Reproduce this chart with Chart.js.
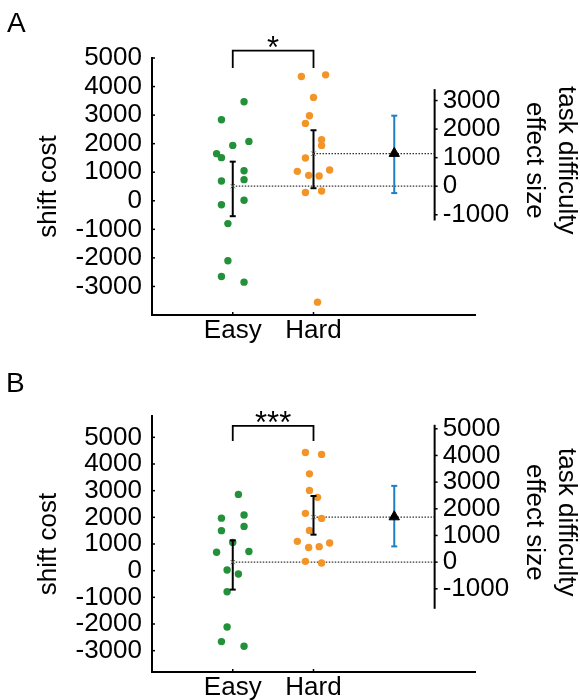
<!DOCTYPE html>
<html>
<head>
<meta charset="utf-8">
<script src="https://cdn.jsdelivr.net/npm/chart.js@4/dist/chart.umd.min.js"></script>
<style>
  body { margin: 0; background: #fff; }
  #wrap { position: relative; width: 580px; height: 700px; }
  #wrap canvas { position: absolute; left: 0; }
  .panel-label {
    position: absolute; z-index: 2;
    font: 28px 'Liberation Sans', Arial, sans-serif; line-height: 28px; color: #000;
  }
</style>
</head>
<body>
<div id="wrap">
  <div class="panel-label" style="left:7px; top:9px;">A</div>
  <canvas id="chartA" width="580" height="350" style="top:0;"></canvas>
  <div class="panel-label" style="left:6px; top:369px;">B</div>
  <canvas id="chartB" width="580" height="350" style="top:350px;"></canvas>
</div>

<script>
// Shift cost for easy vs hard tasks (dots = participants), plus the
// task-difficulty effect size on a second axis to the right.

// Shared x layout
var CATEGORIES    = ['Easy', 'Hard'];
var CATEGORY_POS  = [1, 2];
var EFFECT_POS    = 3;     // x of the effect-size bar
var RIGHT_AXIS_AT = 3.5;   // x where the right axis is drawn
var X_RANGE       = [0, 4];
var LEFT_TICKS    = [-3000, -2000, -1000, 0, 1000, 2000, 3000, 4000, 5000];

// Panel A
var A_LEFT_RANGE  = [-4000, 5000];
var A_EASY_JITTER = [-0.14, 0.14, 0, 0.2, -0.2, -0.14, 0.14, -0.14, 0.14, 0.14, -0.14, -0.06, -0.06, -0.14, 0.14];
var A_EASY_VALUES = [2840, 3470, 1940, 2080, 1650, 1510, 1050, 690, 740, 20, -140, -800, -2100, -2650, -2850];
var A_HARD_JITTER = [-0.15, 0.15, 0, -0.05, -0.1, 0.1, 0.1, -0.1, -0.2, 0.2, -0.06, 0.07, -0.1, 0.1, 0.05];
var A_HARD_VALUES = [4350, 4410, 3620, 2980, 2710, 2140, 1940, 1500, 1030, 1080, 890, 870, 290, 340, -3550];
var A_MEANS       = [510, 1650];
var A_ERR_LOW     = [-540, 440];
var A_ERR_HIGH    = [1370, 2470];
var A_EFFECT_MEAN = 1150;
var A_EFFECT_CI   = [-240, 2470];
var A_RIGHT_RANGE = [-1200, 3400];
var A_RIGHT_TICKS = [-1000, 0, 1000, 2000, 3000];
var A_BRACKET     = [4650, 5260];
var A_STARS       = '*';

// Panel B
var B_LEFT_RANGE  = [-3800, 5800];
var B_EASY_JITTER = [0.07, -0.14, 0.14, -0.14, 0.14, 0, -0.2, 0.2, -0.07, 0.07, -0.07, -0.07, -0.14, 0.14];
var B_EASY_VALUES = [2860, 1970, 2090, 1500, 1660, 1060, 690, 720, 25, -125, -790, -2110, -2660, -2835];
var B_HARD_JITTER = [-0.1, 0.1, -0.05, -0.05, 0.05, -0.1, 0.1, -0.05, -0.2, 0.2, -0.06, 0.07, -0.1, 0.1];
var B_HARD_VALUES = [4430, 4360, 3630, 3010, 2750, 2150, 1960, 1510, 1100, 1040, 870, 900, 350, 290];
var B_MEANS       = [320, 2010];
var B_ERR_LOW     = [-710, 1350];
var B_ERR_HIGH    = [1135, 2800];
var B_EFFECT_MEAN = 1700;
var B_EFFECT_CI   = [590, 2860];
var B_RIGHT_RANGE = [-1750, 5150];
var B_RIGHT_TICKS = [-1000, 0, 1000, 2000, 3000, 4000, 5000];
var B_BRACKET     = [4860, 5430];
var B_STARS       = '***';

// Colours
var EASY_COLOR   = '#229139';
var HARD_COLOR   = '#f39428';
var EFFECT_COLOR = '#1e7fc6';
var FONT_FAMILY  = "'Liberation Sans', Arial, sans-serif";

Chart.defaults.font.family = FONT_FAMILY;
Chart.defaults.color = '#000';

// Dataset helpers

// One dot per participant, spread sideways around the category
function dotSet(pos, jitter, values, color) {
  return {
    data: values.map(function(v, i) { return { x: pos + jitter[i], y: v }; }),
    pointRadius: 3.7,
    pointBackgroundColor: color,
    pointBorderWidth: 0,
    order: 3,
  };
}

// Vertical error bar with small caps (pointStyle 'line' draws the caps)
function errorBarSet(pos, low, high, color, axisId) {
  return {
    yAxisID: axisId,
    data: [{ x: pos, y: low }, { x: pos, y: high }],
    showLine: true,
    borderColor: color,
    borderWidth: 2,
    pointStyle: 'line',
    pointRadius: 3,
    pointBorderColor: color,
    pointBorderWidth: 2,
    order: 1,
  };
}

// Dotted guide from a mean across to the right axis
function dottedSet(pos, mean) {
  return {
    data: [{ x: pos, y: mean }, { x: RIGHT_AXIS_AT, y: mean }],
    showLine: true,
    borderColor: '#333',
    borderWidth: 1.2,
    borderDash: [1.5, 1.5],
    pointRadius: 0,
    order: 4,
  };
}

// Extra drawing: inward ticks, right axis, significance stars
function makeExtras(p) {
  return {
    id: 'panelExtras',
    afterDraw: function(chart) {
      var ctx  = chart.ctx;
      var xs   = chart.scales.x;
      var ys   = chart.scales.y;
      var y2   = chart.scales.y2;
      var area = chart.chartArea;

      function seg(x1, y1, x2, y2p) {
        ctx.beginPath(); ctx.moveTo(x1, y1); ctx.lineTo(x2, y2p); ctx.stroke();
      }

      ctx.save();
      ctx.strokeStyle = '#000';
      ctx.fillStyle = '#000';

      // small inward tick marks on the main axes
      ctx.lineWidth = 1.5;
      LEFT_TICKS.forEach(function(v) {
        var py = ys.getPixelForValue(v);
        seg(area.left, py, area.left + 3, py);
      });
      CATEGORY_POS.forEach(function(v) {
        var px = xs.getPixelForValue(v);
        seg(px, area.bottom, px, area.bottom - 3);
      });

      // right axis (effect size), zero lined up with the easy mean
      var ax = xs.getPixelForValue(RIGHT_AXIS_AT);
      ctx.lineWidth = 2;
      seg(ax, y2.getPixelForValue(p.rightRange[0]), ax, y2.getPixelForValue(p.rightRange[1]));
      ctx.lineWidth = 1.5;
      ctx.font = '26px ' + FONT_FAMILY;
      ctx.textAlign = 'left';
      ctx.textBaseline = 'middle';
      p.rightTicks.forEach(function(v) {
        var py = y2.getPixelForValue(v);
        seg(ax, py, ax + 3, py);
        ctx.fillText(String(v), ax + 8, py);
      });

      // right axis title, rotated clockwise
      var midY = (y2.getPixelForValue(p.rightRange[0]) + y2.getPixelForValue(p.rightRange[1])) / 2 + 5.5;
      ctx.textAlign = 'center';
      [['task difficulty', 132], ['effect size', 100]].forEach(function(t) {
        ctx.save();
        ctx.translate(ax + t[1], midY);
        ctx.rotate(Math.PI / 2);
        ctx.fillText(t[0], 0, 0);
        ctx.restore();
      });

      // stars above the bracket
      ctx.font = '31px ' + FONT_FAMILY;
      ctx.textBaseline = 'alphabetic';
      var midX = (xs.getPixelForValue(CATEGORY_POS[0]) + xs.getPixelForValue(CATEGORY_POS[1])) / 2;
      ctx.fillText(p.stars, midX, ys.getPixelForValue(p.bracket[1]) + 7.5);

      ctx.restore();
    },
  };
}

function buildPanel(canvasId, p) {
  var easyMean = p.means[0];
  var datasets = [];

  datasets.push(dotSet(CATEGORY_POS[0], p.easyJitter, p.easyValues, EASY_COLOR));
  datasets.push(dotSet(CATEGORY_POS[1], p.hardJitter, p.hardValues, HARD_COLOR));

  // mean (x marker) and error bar per condition
  CATEGORY_POS.forEach(function(pos, i) {
    datasets.push(errorBarSet(pos, p.errLow[i], p.errHigh[i], '#000', 'y'));
    datasets.push(dottedSet(pos, p.means[i]));
    datasets.push({
      data: [{ x: pos, y: p.means[i] }],
      pointStyle: 'crossRot',
      pointRadius: 3,
      pointBorderColor: '#555',
      pointBorderWidth: 1,
      order: 0,
    });
  });

  // effect size on the right-hand scale
  datasets.push(errorBarSet(EFFECT_POS, p.effectCI[0], p.effectCI[1], EFFECT_COLOR, 'y2'));
  datasets.push({
    yAxisID: 'y2',
    data: [{ x: EFFECT_POS, y: p.effectMean }],
    pointStyle: 'triangle',
    pointRadius: 6,
    pointBackgroundColor: '#000',
    pointBorderColor: '#000',
    pointBorderWidth: 1,
    order: 0,
  });

  // significance bracket
  datasets.push({
    data: [
      { x: CATEGORY_POS[0], y: p.bracket[0] },
      { x: CATEGORY_POS[0], y: p.bracket[1] },
      { x: CATEGORY_POS[1], y: p.bracket[1] },
      { x: CATEGORY_POS[1], y: p.bracket[0] },
    ],
    showLine: true,
    borderColor: '#000',
    borderWidth: 1.8,
    pointRadius: 0,
    clip: false,
    order: 1,
  });

  return new Chart(document.getElementById(canvasId), {
    type: 'scatter',
    data: { datasets: datasets },
    options: {
      responsive: false,
      animation: false,
      events: [],
      layout: { padding: { top: p.padTop, right: 105, bottom: 0, left: 0 } },
      plugins: { legend: { display: false }, tooltip: { enabled: false } },
      scales: {
        x: {
          type: 'linear',
          min: X_RANGE[0],
          max: X_RANGE[1],
          grid: { display: false, drawTicks: false },
          border: { color: '#000', width: 2 },
          ticks: {
            font: { size: 26 },
            color: '#000',
            padding: 0,
            autoSkip: false,
            callback: function(val, index) { return CATEGORIES[index]; },
          },
          afterBuildTicks: function(axis) {
            axis.ticks = CATEGORY_POS.map(function(v) { return { value: v }; });
          },
          afterFit: function(axis) { axis.height = p.xAxisHeight; },
        },
        y: {
          type: 'linear',
          position: 'left',
          min: p.leftRange[0],
          max: p.leftRange[1],
          grid: { display: false, drawTicks: false },
          border: { color: '#000', width: 2 },
          ticks: {
            font: { size: 26 },
            color: '#000',
            padding: 10,
            autoSkip: false,
            callback: function(val) { return String(val); },
          },
          afterBuildTicks: function(axis) {
            axis.ticks = LEFT_TICKS.map(function(v) { return { value: v }; });
          },
          afterFit: function(axis) { axis.width = 152; },
          title: {
            display: true,
            text: 'shift cost',
            color: '#000',
            font: { size: 26, lineHeight: 1.2 },
            padding: { top: 33, bottom: 0 },
          },
        },
        // effect-size scale: same pixels per unit, zero at the easy mean
        y2: {
          type: 'linear',
          display: false,
          min: p.leftRange[0] - easyMean,
          max: p.leftRange[1] - easyMean,
        },
      },
    },
    plugins: [makeExtras(p)],
  });
}

buildPanel('chartA', {
  padTop: 58, xAxisHeight: 35,
  leftRange: A_LEFT_RANGE,
  easyJitter: A_EASY_JITTER, easyValues: A_EASY_VALUES,
  hardJitter: A_HARD_JITTER, hardValues: A_HARD_VALUES,
  means: A_MEANS, errLow: A_ERR_LOW, errHigh: A_ERR_HIGH,
  effectMean: A_EFFECT_MEAN, effectCI: A_EFFECT_CI,
  rightRange: A_RIGHT_RANGE, rightTicks: A_RIGHT_TICKS,
  bracket: A_BRACKET, stars: A_STARS,
});

buildPanel('chartB', {
  padTop: 66, xAxisHeight: 28,
  leftRange: B_LEFT_RANGE,
  easyJitter: B_EASY_JITTER, easyValues: B_EASY_VALUES,
  hardJitter: B_HARD_JITTER, hardValues: B_HARD_VALUES,
  means: B_MEANS, errLow: B_ERR_LOW, errHigh: B_ERR_HIGH,
  effectMean: B_EFFECT_MEAN, effectCI: B_EFFECT_CI,
  rightRange: B_RIGHT_RANGE, rightTicks: B_RIGHT_TICKS,
  bracket: B_BRACKET, stars: B_STARS,
});
</script>
</body>
</html>
